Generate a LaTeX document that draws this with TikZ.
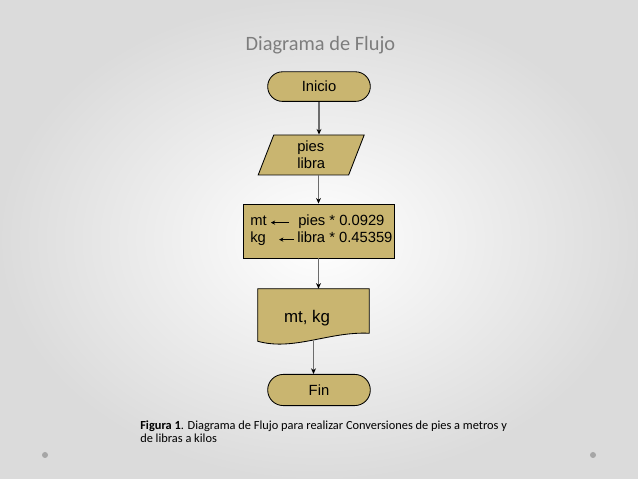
\documentclass[tikz,border=0pt]{standalone}
\usepackage{fontspec}
\setmainfont{Carlito}
\newfontfamily\arialfont{Liberation Sans}
\usetikzlibrary{positioning,arrows.meta,calc,shapes.geometric,shapes.misc}
\definecolor{khaki}{RGB}{201,181,112}
\definecolor{titlegray}{RGB}{125,125,125}

\begin{document}
\begin{tikzpicture}[
  font=\arialfont\fontsize{10.5}{12}\selectfont,
  >=Stealth,
  termnode/.style={rounded rectangle, draw=black, fill=khaki, line width=0.6pt, minimum width=2.8cm, minimum height=0.74cm},
  ionode/.style={trapezium, trapezium left angle=63, trapezium right angle=117, trapezium stretches body, draw=black, fill=khaki, line width=0.6pt, minimum width=2.65cm, minimum height=1cm, align=left, inner sep=1pt},
  procnode/.style={rectangle, draw=black, fill=khaki, line width=0.6pt, minimum width=3.775cm, minimum height=1.35cm},
  docnode/.style={rectangle, minimum width=2.775cm, minimum height=1.3cm, inner sep=0pt},
  txtnode/.style={inner sep=0pt, anchor=base west},
  flowmap/.style={-{Stealth[black, length=4pt, width=3.5pt]}, draw=gray!85!black, line width=0.9pt},
  calcmap/.style={-{Stealth[length=3pt, width=3pt]}, draw=black, line width=0.6pt}
]
  % background
  \useasboundingbox (0,0) rectangle (15.95,11.975);
  \shade[inner color=white, outer color=gray!28] (0,0) rectangle (15.95,11.975);
  \fill[gray!70] (1.125,0.6) circle (0.075);
  \fill[gray!70] (14.825,0.6) circle (0.075);

  \node[font=\fontsize{14.5}{17}\selectfont, text=titlegray] (titulo) at (8.01,10.85) {Diagrama de Flujo};

  \node[termnode] (inicio) at (7.975,9.81) {Inicio};
  \node[ionode] (datos) at (7.78,8.1) {pies\\libra};
  \node[procnode] (proceso) at (7.9625,6.2) {};
  \node[txtnode] (mt) at (6.25,6.325) {mt};
  \node[txtnode] (pmul) at (7.45,6.325) {pies * 0.0929};
  \node[txtnode] (kg) at (6.25,5.9) {kg};
  \node[txtnode] (lmul) at (7.425,5.9) {libra * 0.45359};
  \node[docnode] (salida) at (7.8375,4.1) {};
  \draw[fill=khaki, line width=0.6pt] (salida.north west) -- (salida.north east)
    -- ($(salida.south east)+(0,0.2)$)
    .. controls ($(salida.south east)+(-1.0,0.25)$) and ($(salida.south west)+(0.9,-0.25)$) .. (salida.south west) -- cycle;
  \node[inner sep=0pt, font=\arialfont\fontsize{12}{14}\selectfont] (salidatxt) at ($(salida)+(-0.16,-0.08)$) {mt, kg};
  \node[termnode, minimum height=0.78cm] (fin) at (7.975,2.225) {Fin};

  \draw[flowmap] (inicio.south) -- (inicio.south |- datos.north);
  \draw[flowmap] (proceso.north |- datos.south) -- (proceso.north);
  \draw[flowmap] (proceso.south) -- (proceso.south |- salida.north);
  \draw[flowmap] (salida.south) -- (salida.south |- fin.north);
  \draw[calcmap, shorten <=0.225cm, shorten >=0.1cm] (pmul.mid west) -- (mt.mid east);
  \draw[calcmap, shorten <=0.075cm, shorten >=0.325cm] (lmul.mid west) -- (kg.mid east);

  \node[txtnode, align=left, font=\fontsize{8.8}{9.3}\selectfont] (pie) at (3.5,0.9) {\textbf{Figura 1}. Diagrama de Flujo para realizar Conversiones de pies a metros y\\de libras a kilos};
\end{tikzpicture}
\end{document}
